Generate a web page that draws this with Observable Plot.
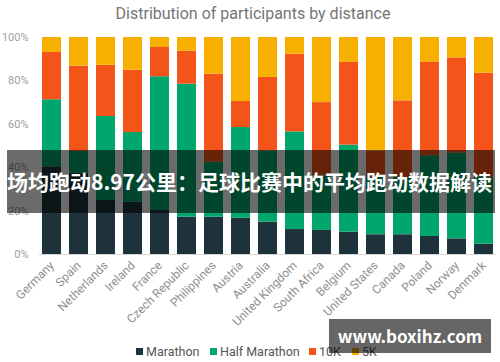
<!DOCTYPE html>
<html><head><meta charset="utf-8">
<script src="https://cdn.jsdelivr.net/npm/d3@7"></script>
<script src="https://cdn.jsdelivr.net/npm/@observablehq/plot@0.6"></script>
<style>
body{margin:0;background:#fff;font-family:Roboto,sans-serif;}
#wrap{position:relative;width:500px;height:362px;overflow:hidden;}
#title{position:absolute;left:0;top:4px;width:506px;text-align:center;font-size:16px;color:#757575;font-family:Roboto,sans-serif;}
#chart{position:absolute;left:0;top:0;}
#legend{position:absolute;left:0;top:343px;width:500px;height:18px;font-size:12.5px;color:#555;font-family:Roboto,sans-serif;}
#legend .item{position:absolute;top:0;white-space:nowrap;line-height:18px;}
#legend span.sw{display:inline-block;width:7px;height:7px;margin-right:3px;vertical-align:middle;position:relative;top:-1px;}
#banner{position:absolute;left:7px;top:150px;width:488px;height:63px;background:rgba(0,0,0,0.58);color:#fff;font-family:"Noto Sans CJK SC",sans-serif;font-weight:bold;font-size:21px;line-height:63px;white-space:nowrap;overflow:hidden;}
#wm{position:absolute;left:329px;top:319px;width:162px;height:34px;background:rgba(0,0,0,0.6);color:#fff;font-family:"Noto Sans CJK SC",sans-serif;font-weight:bold;font-size:17px;line-height:34px;text-align:center;}
</style></head><body>
<div id="wrap">
<div id="title">Distribution of participants by distance</div>
<div id="chart"></div>
<div id="legend"></div>
<div id="banner">场均跑动8.97公里：足球比赛中的平均跑动数据解读</div>
<div id="wm">www.boxihz.com</div>
</div>
<script>
const countries = ["Germany","Spain","Netherlands","Ireland","France","Czech Republic","Philippines","Austria","Australia","United Kingdom","South Africa","Belgium","United States","Canada","Poland","Norway","Denmark"];
const series = ["Marathon","Half Marathon","10K","5K"];
const colors = ["#1d323a","#00a66b","#f4541a","#f7b000"];
const marathon     = [40.4, 37.5, 24.9, 24.1, 20.3, 17.2, 17.2, 16.7, 14.9, 11.5, 11.1, 10.3, 9.1, 9.1, 8.3, 7.2, 4.7];
const halfMarathon = [30.9, 10.0, 38.7, 32.1, 61.6, 61.3, 25.3, 41.8, 32.9, 45.0, 25.1, 40.1, 26.4, 26.4, 37.2, 39.5, 31.0];
const tenK         = [21.8, 39.3, 23.6, 28.7, 13.5, 15.2, 40.6, 12.0, 33.8, 35.8, 33.8, 38.1, 12.2, 35.3, 43.0, 43.9, 47.8];
const fiveK        = [6.9, 13.2, 12.8, 15.1, 4.6, 6.3, 16.9, 29.5, 18.4, 7.7, 30.0, 11.5, 52.3, 29.2, 11.5, 9.4, 16.5];
const yTicks = [0,20,40,60,80,100];

const valuesBySeries = [marathon, halfMarathon, tenK, fiveK];
const data = [];
countries.forEach((c,i)=>{
  series.forEach((s,j)=>{ data.push({country:c, series:s, value:valuesBySeries[j][i]}); });
});

const chart = Plot.plot({
  width:500, height:340,
  marginTop:37, marginBottom:86, marginLeft:39, marginRight:4,
  style:{fontFamily:"Roboto, sans-serif", background:"transparent"},
  x:{domain:countries, paddingInner:0.3, paddingOuter:0.1, label:null},
  y:{domain:[0,100], label:null},
  color:{domain:series, range:colors},
  marks:[
    Plot.barY(data,{x:"country", y:"value", fill:"series"}),
    Plot.ruleY([0],{stroke:"#d8d8d8"}),
    Plot.axisY({ticks:yTicks, tickFormat:d=>d+"%", tickSize:0, tickPadding:11, fontSize:11, color:"#a0a0a0", label:null}),
    Plot.axisX({tickRotate:-45, tickSize:0, tickPadding:9, fontSize:12, color:"#909090", label:null})
  ]
});
document.getElementById("chart").appendChild(chart);

const legend = document.getElementById("legend");
const legendX = [136, 210, 309, 352];
series.forEach((s,j)=>{
  const item = document.createElement("div");
  item.className = "item";
  item.style.left = legendX[j] + "px";
  item.innerHTML = `<span class="sw" style="background:${colors[j]}"></span>${s}`;
  legend.appendChild(item);
});
</script>
</body></html>
